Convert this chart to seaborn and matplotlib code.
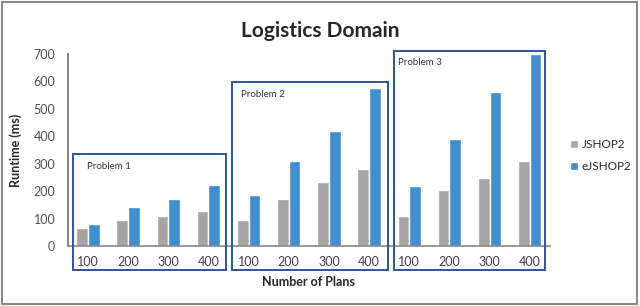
import pandas as pd
import matplotlib.pyplot as plt
import seaborn as sns
from matplotlib.patches import Rectangle

# chart values
plans = ["100", "200", "300", "400"]
problems = ["Problem 1", "Problem 2", "Problem 3"]
jshop2 = [64, 94, 110, 127, 93, 171, 233, 281, 109, 203, 249, 311]
ejshop2 = [79, 143, 172, 222, 187, 311, 420, 575, 219, 389, 561, 700]
y_ticks = [0, 100, 200, 300, 400, 500, 600, 700]

# build long table: one category per (problem, plans) pair
keys = [f"{p}|{n}" for p in problems for n in plans]
df = pd.DataFrame({
    "key": keys * 2,
    "Runtime": jshop2 + ejshop2,
    "Planner": ["JSHOP2"] * len(keys) + ["eJSHOP2"] * len(keys),
})

sns.set_style("white")
plt.rcParams["font.family"] = ["Lato", "DejaVu Sans"]

fig = plt.figure(figsize=(6.4, 3.06), dpi=100)
ax = fig.add_axes([0.106, 0.196, 0.753, 0.628])

sns.barplot(data=df, x="key", y="Runtime", hue="Planner", order=keys,
            palette={"JSHOP2": "#A5A5A5", "eJSHOP2": "#418FCF"},
            saturation=1, width=0.58, gap=0, ax=ax)

ax.set_ylim(0, 700)
ax.set_xlim(-0.5, len(keys) - 0.5)
ax.set_yticks(y_ticks)
ax.set_xticks(range(len(keys)))
ax.set_xticklabels([k.split("|")[1] for k in keys])
ax.tick_params(axis="x", length=0, pad=7, labelsize=9, colors="#404040")
ax.tick_params(axis="y", length=0, pad=9, labelsize=9, colors="#505050")

for s in ["top", "right"]:
    ax.spines[s].set_visible(False)
ax.spines["left"].set_color("#888888")
ax.spines["left"].set_linewidth(1.5)
ax.spines["bottom"].set_color("#888888")
ax.spines["bottom"].set_linewidth(1.2)

ax.set_ylabel("Runtime (ms)", fontsize=9, fontweight="bold", labelpad=8)
ax.set_xlabel("Number of Plans", fontsize=9, fontweight="bold", labelpad=6)
fig.suptitle("Logistics Domain", fontsize=15, fontweight="bold", y=0.93)

# boxes around each problem group (x0, x1, top) in data units
boxes = [(-0.38, 3.43, 334), (3.60, 7.46, 596), (7.61, 11.39, 712)]
text_dx = [14, 9, 4]
for (x0, x1, top), name, dx in zip(boxes, problems, text_dx):
    ax.add_patch(Rectangle((x0, -87), x1 - x0, top + 87, fill=False,
                           ec="#2F5496", lw=1.4, clip_on=False, zorder=5))
    ax.annotate(name, (x0, top), xytext=(dx, -12), textcoords="offset pixels",
                fontsize=7, va="center", ha="left", color="#333333",
                annotation_clip=False)

ax.legend(loc="center left", bbox_to_anchor=(1.02, 0.47), frameon=False,
          fontsize=8.5, handlelength=0.7, handleheight=0.7, handletextpad=0.3,
          labelspacing=0.9)

# chart-area border
fig.patches.append(Rectangle((0.003, 0.005), 0.993, 0.99, transform=fig.transFigure,
                             fill=False, ec="#8a8a8a", lw=1.5))

fig.savefig("out.png", dpi=100)
